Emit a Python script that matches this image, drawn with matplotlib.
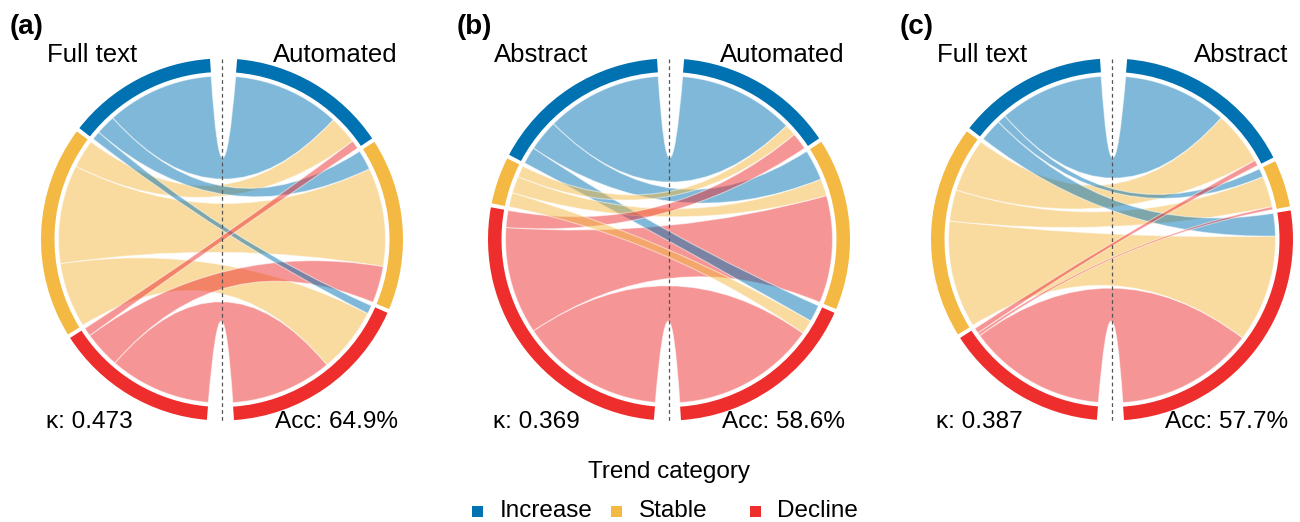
import numpy as np
import matplotlib
matplotlib.use("Agg")
import matplotlib.pyplot as plt
from matplotlib.path import Path
from matplotlib.patches import PathPatch, Wedge, Rectangle

plt.rcParams['font.family'] = ['Liberation Sans', 'DejaVu Sans']

# ---------------- data ----------------
categories = ["Increase", "Stable", "Decline"]
cat_colors = ["#0072B2", "#F4B942", "#EE2D2D"]

panel_tags = ["(a)", "(b)", "(c)"]
left_names = ["Full text", "Abstract", "Full text"]
right_names = ["Automated", "Automated", "Abstract"]
kappa_labels = ["κ: 0.473", "κ: 0.369", "κ: 0.387"]
acc_labels = ["Acc: 64.9%", "Acc: 58.6%", "Acc: 57.7%"]

# rows: left classifier category, cols: right classifier category
matrix_a = [[38, 7, 3],
            [10, 35, 23],
            [3, 13, 36]]
matrix_b = [[41, 11, 6],
            [4, 6, 5],
            [6, 38, 51]]
matrix_c = [[37, 3, 8],
            [19, 11, 38],
            [2, 1, 49]]
matrices = [matrix_a, matrix_b, matrix_c]

legend_title = "Trend category"

# ---------------- layout ----------------
W, H = 1300, 522
fig = plt.figure(figsize=(W / 100, H / 100), dpi=100)
ax = fig.add_axes([0, 0, 1, 1])
ax.set_xlim(0, W)
ax.set_ylim(0, H)
ax.set_aspect('equal')
ax.axis('off')

centers_x = [222, 669, 1112]
cy = H - 239.5
R_OUT, R_IN, R_CH = 181.0, 167.5, 163.5
HALF_GAP = 4.3
SEC_GAP = 1.3
ROT = -0.5


def pt(cx, r, deg):
    t = np.deg2rad(deg)
    return np.array([cx + r * np.cos(t), cy + r * np.sin(t)])


def arc_pts(cx, r, d1, d2, n=60):
    ts = np.linspace(d1, d2, n)
    return np.array([pt(cx, r, t) for t in ts])


def ribbon(cx, a1, a2, b1, b2, color):
    """left arc a1<a2, right arc b1<b2 (degrees)."""
    c = np.array([cx, cy])
    verts, codes = [], []
    A = arc_pts(cx, R_CH, a1, a2)
    verts += list(A); codes += [Path.MOVETO] + [Path.LINETO] * (len(A) - 1)
    verts += [c, pt(cx, R_CH, b1)]; codes += [Path.CURVE3, Path.CURVE3]
    B = arc_pts(cx, R_CH, b1, b2)
    verts += list(B[1:]); codes += [Path.LINETO] * (len(B) - 1)
    verts += [c, pt(cx, R_CH, a1)]; codes += [Path.CURVE3, Path.CURVE3]
    verts.append(pt(cx, R_CH, a1)); codes.append(Path.CLOSEPOLY)
    p = PathPatch(Path(verts, codes), facecolor=color, alpha=0.5,
                  edgecolor='white', lw=0.8, zorder=2)
    ax.add_patch(p)


for k, M in enumerate(matrices):
    cx = centers_x[k]
    M = np.array(M, dtype=float)
    N = M.sum()
    unit = (180 - 2 * HALF_GAP - 2 * SEC_GAP) / N
    rows = M.sum(axis=1)
    cols = M.sum(axis=0)

    # left sectors (CCW from top)
    L_start = []
    s = 90 + HALF_GAP + ROT
    for i in range(3):
        L_start.append(s)
        e = s + rows[i] * unit
        ax.add_patch(Wedge((cx, cy), R_OUT, s, e, width=R_OUT - R_IN,
                           facecolor=cat_colors[i], edgecolor='none', zorder=3))
        s = e + SEC_GAP
    # right sectors (CW from top)
    R_start = []
    s = 90 - HALF_GAP + ROT
    for j in range(3):
        R_start.append(s)
        e = s - cols[j] * unit
        ax.add_patch(Wedge((cx, cy), R_OUT, e, s, width=R_OUT - R_IN,
                           facecolor=cat_colors[j], edgecolor='none', zorder=3))
        s = e - SEC_GAP

    # link positions
    left_off = [0.0, 0.0, 0.0]
    right_off = [0.0, 0.0, 0.0]
    left_pos = {}
    for i in range(3):
        for j in range(3):
            a1 = L_start[i] + left_off[i]
            a2 = a1 + M[i, j] * unit
            left_off[i] += M[i, j] * unit
            left_pos[(i, j)] = (a1, a2)
    right_pos = {}
    for j in range(3):
        for i in range(3):
            b2 = R_start[j] - right_off[j]
            b1 = b2 - M[i, j] * unit
            right_off[j] += M[i, j] * unit
            right_pos[(i, j)] = (b1, b2)
    # draw larger ribbons first
    order = sorted([(i, j) for i in range(3) for j in range(3)],
                   key=lambda ij: -M[ij])
    for (i, j) in order:
        if M[i, j] <= 0:
            continue
        a1, a2 = left_pos[(i, j)]
        b1, b2 = right_pos[(i, j)]
        ribbon(cx, a1, a2, b1, b2, cat_colors[i])

    # dashed centre line
    ax.plot([cx, cx], [cy + R_OUT, cy - R_OUT - 2], ls=(0, (3, 2.5)),
            color='#555555', lw=0.9, zorder=4)

    # texts
    ax.text(cx - 212, H - 34.5, panel_tags[k], fontsize=20, fontweight='bold',
            ha='left', va='baseline')
    ax.text(cx - 175, H - 62.5, left_names[k], fontsize=18.5, ha='left', va='baseline')
    ax.text(cx + 176, H - 62.5, right_names[k], fontsize=18.5, ha='right', va='baseline')
    ax.text(cx - 176, H - 428, kappa_labels[k], fontsize=17.6, ha='left', va='baseline')
    ax.text(cx + 176, H - 428, acc_labels[k], fontsize=17.6, ha='right', va='baseline')

# legend
ax.text(669, H - 478, legend_title, fontsize=17.5, ha='center', va='baseline')
leg_sq_x = [472, 611, 750]
leg_txt_x = [500, 639, 777]
for c in range(3):
    ax.add_patch(Rectangle((leg_sq_x[c], H - 516.5), 11, 11,
                           facecolor=cat_colors[c], edgecolor='none'))
    ax.text(leg_txt_x[c], H - 517, categories[c], fontsize=17.5,
            ha='left', va='baseline')

fig.savefig("out.png", dpi=100)
